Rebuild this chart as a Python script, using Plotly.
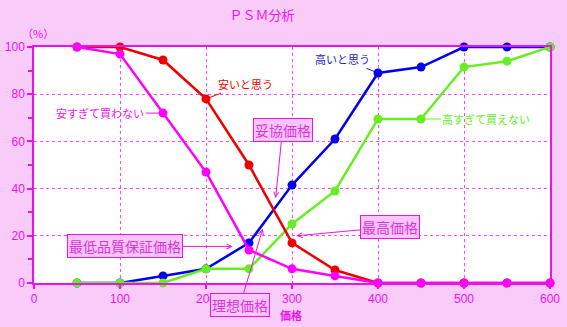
import plotly.graph_objects as go

prices = [50, 100, 150, 200, 250, 300, 350, 400, 450, 500, 550, 600]
too_cheap = [100, 97, 72, 47, 14, 6, 3, 0, 0, 0, 0, 0]          # 安すぎて買わない
cheap = [100, 100, 94.5, 78, 50, 17, 5.5, 0, 0, 0, 0, 0]         # 安いと思う
expensive = [0, 0, 3, 6, 17, 41.5, 61, 89, 91.5, 100, 100, 100]  # 高いと思う
too_expensive = [0, 0, 0, 6, 6, 25, 39, 69.5, 69.5, 91.5, 94, 100]  # 高すぎて買えない

x_ticks = [0, 100, 200, 300, 400, 500, 600]
y_ticks = [0, 20, 40, 60, 80, 100]

MAG = "#EE11EE"
GRID = "#FF44FF"
PINK_BG = "#F9CBF9"
JP = "Noto Sans CJK JP"

fig = go.Figure()

series = [
    ("高いと思う", expensive, "#0000EE"),
    ("高すぎて買えない", too_expensive, "#66EE22"),
    ("安いと思う", cheap, "#EE0000"),
    ("安すぎて買わない", too_cheap, "#FF00FF"),
]
for name, vals, col in series:
    fig.add_trace(go.Scatter(
        x=prices, y=vals, name=name, mode="lines+markers",
        line=dict(color=col, width=2.5),
        marker=dict(color=col, size=9),
        cliponaxis=False, showlegend=False,
    ))

ann = []
def label(text, col, px, py, tx, ty):
    ann.append(dict(
        x=px, y=py, ax=tx, ay=ty, xref="x", yref="y", axref="x", ayref="y",
        text=text, showarrow=True, arrowhead=0, arrowwidth=1, arrowcolor=col,
        font=dict(family=JP, size=11, color=col), standoff=4,
    ))

label("安すぎて買わない", "#EE11EE", prices[2], too_cheap[2], 77, too_cheap[2])
label("安いと思う", "#EE0000", prices[3], cheap[3], 246, 84.5)
label("高いと思う", "#2222DD", prices[7], expensive[7], 359, 95)
label("高すぎて買えない", "#66EE22", prices[8], too_expensive[8], 526, too_expensive[8])

def box(text, hx, hy, tx, ty):
    ann.append(dict(
        x=hx, y=hy, ax=tx, ay=ty, xref="x", yref="y", axref="x", ayref="y",
        text=text, showarrow=True, arrowhead=5, arrowsize=1, arrowwidth=1,
        arrowcolor=MAG, font=dict(family=JP, size=14, color="#DD33DD"),
        bgcolor="#F8C6F8", bordercolor=MAG, borderwidth=1, borderpad=1,
    ))

box("妥協価格", 281, 36, 289, 65)
box("最低品質保証価格", 231, 15.5, 106, 15.5)
box("理想価格", 266, 23, 239.5, -9.5)
box("最高価格", 305, 20, 414.5, 23.7)

# plot area: x 34..550 px, y 47..283 px
ann.append(dict(x=(38 - 34) / 516, y=(283 - 33) / 236, xref="paper", yref="paper",
                xanchor="center", yanchor="middle",
                text="（%）", showarrow=False,
                font=dict(family=JP, size=11, color=MAG)))
ann.append(dict(x=(291 - 34) / 516, y=(283 - 315) / 236, xref="paper", yref="paper",
                xanchor="center", yanchor="middle",
                text="<b>価格</b>", showarrow=False,
                font=dict(family=JP, size=11, color=MAG)))

fig.update_layout(
    width=567, height=327,
    margin=dict(l=34, r=17, t=47, b=44),
    paper_bgcolor=PINK_BG, plot_bgcolor="white",
    title=dict(text="ＰＳＭ分析", x=262 / 567, xanchor="center",
               y=1 - 15 / 327, yanchor="middle",
               font=dict(family=JP, size=13, color=MAG)),
    annotations=ann,
    font=dict(family="Liberation Sans, Arial", color=MAG, size=12),
)
fig.update_xaxes(
    range=[0, 600], tickvals=x_ticks, ticktext=[str(v) for v in x_ticks],
    showgrid=True, gridcolor=GRID, griddash="dot", gridwidth=1,
    showline=True, linecolor=MAG, linewidth=1.5, mirror=True,
    ticks="outside", ticklen=4, tickcolor=MAG, tickwidth=1.5,
    zeroline=False, tickfont=dict(color=MAG, size=12), automargin=False,
)
fig.update_yaxes(
    range=[0, 100], tickvals=y_ticks, ticktext=[str(v) for v in y_ticks],
    showgrid=True, gridcolor=GRID, griddash="dot", gridwidth=1,
    showline=True, linecolor=MAG, linewidth=1.5, mirror=True,
    ticks="outside", ticklen=5, tickcolor=MAG, tickwidth=1.5,
    minor=dict(ticks="outside", ticklen=4, dtick=10, tickcolor=MAG, showgrid=False),
    zeroline=True, zerolinecolor=MAG, zerolinewidth=3,
    tickfont=dict(color=MAG, size=12), automargin=False,
)

fig.write_html("out.html")
